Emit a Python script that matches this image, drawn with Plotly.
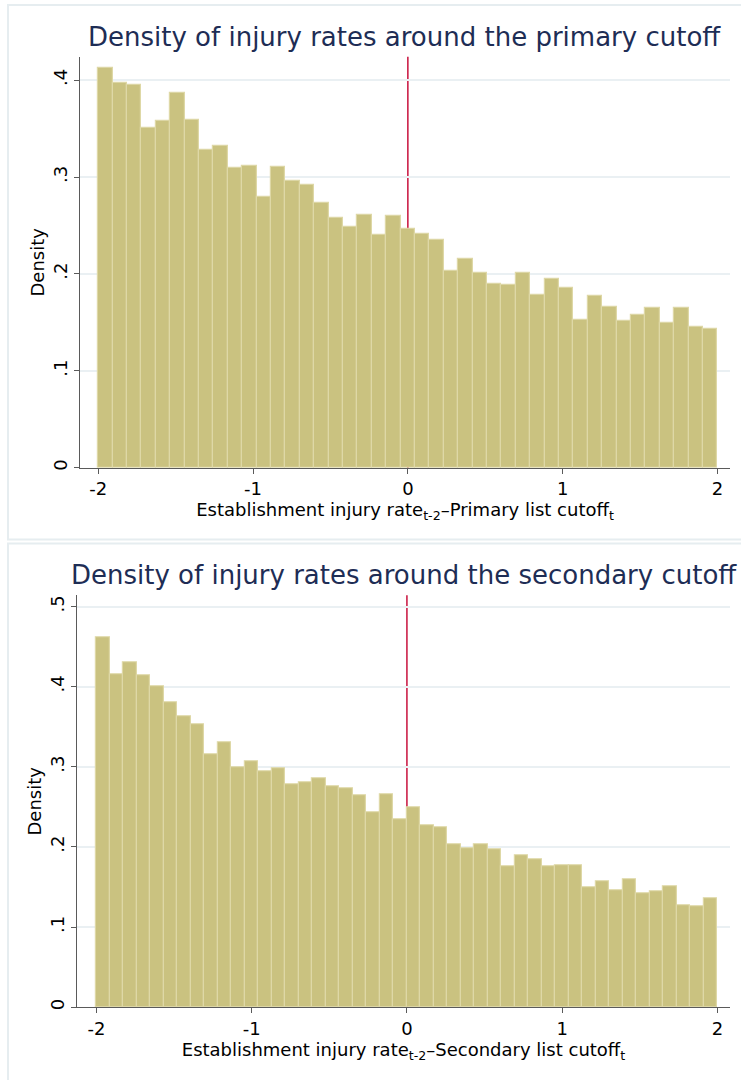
import plotly.graph_objects as go

# Histogram densities (bins span -2 .. 2)
primary_density = [0.413, 0.397, 0.395, 0.351, 0.358, 0.387, 0.359, 0.328, 0.332, 0.309,
                   0.312, 0.280, 0.310, 0.296, 0.292, 0.273, 0.258, 0.249, 0.261, 0.240,
                   0.260, 0.247, 0.241, 0.235, 0.203, 0.216, 0.201, 0.190, 0.189, 0.201,
                   0.178, 0.195, 0.186, 0.153, 0.177, 0.166, 0.152, 0.158, 0.165, 0.150,
                   0.165, 0.145, 0.143]
secondary_density = [0.462, 0.415, 0.430, 0.414, 0.400, 0.380, 0.363, 0.353, 0.315, 0.330,
                     0.299, 0.307, 0.294, 0.298, 0.278, 0.281, 0.286, 0.276, 0.273, 0.265,
                     0.243, 0.266, 0.234, 0.249, 0.227, 0.224, 0.203, 0.198, 0.203, 0.197,
                     0.176, 0.189, 0.184, 0.176, 0.177, 0.177, 0.150, 0.157, 0.146, 0.160,
                     0.142, 0.145, 0.151, 0.127, 0.126, 0.136]
bin_lo, bin_hi = -2.0, 2.0
cutoff = 0.0

x_ticks = [-2, -1, 0, 1, 2]
x_ticklabels = ["-2", "-1", "0", "1", "2"]
y_ticks_top = [0, 0.1, 0.2, 0.3, 0.4]
y_ticklabels_top = ["0", ".1", ".2", ".3", ".4"]
y_ticks_bot = [0, 0.1, 0.2, 0.3, 0.4, 0.5]
y_ticklabels_bot = ["0", ".1", ".2", ".3", ".4", ".5"]

titles = ["Density of injury rates around the primary cutoff",
          "Density of injury rates around the secondary cutoff"]
x_titles = ["Establishment injury rate<sub>t-2</sub>\u2013Primary list cutoff<sub>t</sub>",
            "Establishment injury rate<sub>t-2</sub>\u2013Secondary list cutoff<sub>t</sub>"]

W, H = 741, 1080
FONT = "DejaVu Sans"
BAR_FILL = "rgb(202,194,128)"
BAR_EDGE = "rgb(222,216,166)"
GRID = "rgb(234,240,243)"
AXIS = "rgb(90,90,90)"
TITLE_C = "rgb(30,45,85)"
LINE_RED = "rgb(200,16,60)"
FRAME = "rgb(230,237,240)"


def bins(values):
    n = len(values)
    w = (bin_hi - bin_lo) / n
    centers = [bin_lo + (i + 0.5) * w for i in range(n)]
    return centers, w


def px_x(p):
    return p / W


def px_y(p):
    return 1 - p / H


fig = go.Figure()

panels = [
    dict(vals=primary_density, xa="x", ya="y", xrange=[-2.118, 2.081], yrange=[0, 0.424],
         xdom=[px_x(80), px_x(730)], ydom=[px_y(469), px_y(57)],
         yt=y_ticks_top, ytl=y_ticklabels_top),
    dict(vals=secondary_density, xa="x2", ya="y2", xrange=[-2.125, 2.081], yrange=[0, 0.514],
         xdom=[px_x(77), px_x(730)], ydom=[px_y(1010), px_y(597)],
         yt=y_ticks_bot, ytl=y_ticklabels_bot),
]

for k, p in enumerate(panels):
    centers, w = bins(p["vals"])
    fig.add_trace(go.Bar(
        x=centers, y=p["vals"], width=w,
        marker=dict(color=BAR_FILL, line=dict(color=BAR_EDGE, width=1.2)),
        xaxis=p["xa"], yaxis=p["ya"], showlegend=False, hoverinfo="x+y",
    ))
    sfx = "" if k == 0 else "2"
    fig.update_layout(**{
        "xaxis" + sfx: dict(
            domain=p["xdom"], anchor=p["ya"], range=p["xrange"],
            tickvals=x_ticks, ticktext=x_ticklabels,
            ticks="outside", ticklen=5, tickcolor=AXIS, tickwidth=1,
            showline=True, linecolor=AXIS, linewidth=1.3, showgrid=False, zeroline=False,
            tickfont=dict(family=FONT, size=18, color="black"),
            title=dict(text=x_titles[k], font=dict(family=FONT, size=18, color="black"),
                       standoff=0),
        ),
        "yaxis" + sfx: dict(
            domain=p["ydom"], anchor=p["xa"], range=p["yrange"],
            tickvals=p["yt"], ticktext=p["ytl"], tickangle=-90,
            ticks="outside", ticklen=5, tickcolor=AXIS, tickwidth=1,
            showline=True, linecolor=AXIS, linewidth=1.3,
            showgrid=True, gridcolor=GRID, gridwidth=1.5, zeroline=False,
            tickfont=dict(family=FONT, size=18, color="black"),
            title=dict(text="Density", font=dict(family=FONT, size=18, color="black"),
                       standoff=0),
        ),
    })
    # vertical reference line at the cutoff, hidden behind the bars
    fig.add_shape(type="line", xref=p["xa"], yref="paper",
                  x0=cutoff, x1=cutoff, y0=p["ydom"][0], y1=p["ydom"][1],
                  line=dict(color=LINE_RED, width=1.5), layer="below")

# panel frames
fig.add_shape(type="rect", xref="paper", yref="paper",
              x0=px_x(8), x1=1.05, y0=px_y(541), y1=px_y(5),
              line=dict(color=FRAME, width=2), layer="below")
fig.add_shape(type="rect", xref="paper", yref="paper",
              x0=px_x(8), x1=1.05, y0=-0.05, y1=px_y(545),
              line=dict(color=FRAME, width=2), layer="below")

# panel titles
for t, yc in zip(titles, [37, 577]):
    fig.add_annotation(text=t, xref="paper", yref="paper", x=px_x(404), y=px_y(yc),
                       xanchor="center", yanchor="middle", showarrow=False,
                       font=dict(family=FONT, size=26, color=TITLE_C))

fig.update_layout(
    width=W, height=H, margin=dict(l=0, r=0, t=0, b=0),
    paper_bgcolor="white", plot_bgcolor="white", bargap=0,
)

fig.write_html("out.html")
